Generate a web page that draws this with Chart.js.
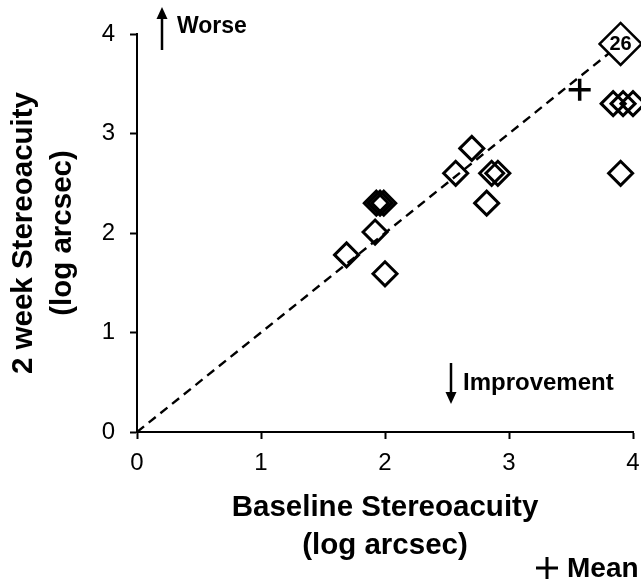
<!DOCTYPE html>
<html>
<head>
<meta charset="utf-8">
<script src="https://cdn.jsdelivr.net/npm/chart.js@4/dist/chart.umd.min.js"></script>
<style>
  body { margin: 0; background: #fff; }
</style>
</head>
<body>
<canvas id="stereoChart" width="641" height="585"></canvas>
<script>
// values (log arcsec)
var baseline = [1.69, 1.92, 1.93, 1.96, 1.99, 2.00, 2.57, 2.70, 2.82, 2.86, 2.91, 3.84, 3.92, 4.00, 3.90];
var twoWeek  = [1.78, 2.01, 2.30, 2.30, 2.30, 1.59, 2.60, 2.85, 2.30, 2.60, 2.60, 3.30, 3.30, 3.30, 2.60];
var overlapPoint = [3.90, 3.90];
var overlapLabel = '26';
var meanPoint = [3.57, 3.44];
var identityLine = [0, 3.90];
var tickValues = [0, 1, 2, 3, 4];

var FONT = "'Liberation Sans', Arial, sans-serif";

function toPoints(xs, ys) {
    return xs.map(function (x, i) { return { x: x, y: ys[i] }; });
}

var annotations = {
    id: 'annotations',
    afterDraw: function (chart) {
        var ctx = chart.ctx;
        var ca = chart.chartArea;
        var xs = chart.scales.x, ys = chart.scales.y;
        ctx.save();
        ctx.fillStyle = '#000';
        ctx.strokeStyle = '#000';

        // count inside the big diamond
        ctx.font = 'bold 20px ' + FONT;
        ctx.textAlign = 'center';
        ctx.textBaseline = 'middle';
        ctx.fillText(overlapLabel, xs.getPixelForValue(overlapPoint[0]), ys.getPixelForValue(overlapPoint[1]) + 1);

        // arrows
        function arrow(x, y1, y2) {
            var dir = y2 < y1 ? -1 : 1;
            ctx.lineWidth = 2.5;
            ctx.beginPath();
            ctx.moveTo(x, y1);
            ctx.lineTo(x, y2 - dir * 8);
            ctx.stroke();
            ctx.beginPath();
            ctx.moveTo(x, y2);
            ctx.lineTo(x - 5.5, y2 - dir * 12);
            ctx.lineTo(x + 5.5, y2 - dir * 12);
            ctx.closePath();
            ctx.fill();
        }
        arrow(ca.left + 25, 50, 7);
        arrow(451, 363, 404);

        ctx.font = 'bold 23px ' + FONT;
        ctx.textAlign = 'left';
        ctx.fillText('Worse', ca.left + 40, 27);
        ctx.font = 'bold 24px ' + FONT;
        ctx.fillText('Improvement', 463, 383);

        // legend for the mean marker
        ctx.lineWidth = 3;
        ctx.beginPath();
        ctx.moveTo(536, 568); ctx.lineTo(558, 568);
        ctx.moveTo(547, 557); ctx.lineTo(547, 579);
        ctx.stroke();
        ctx.font = 'bold 28px ' + FONT;
        ctx.fillText('Mean', 567, 569);
        ctx.restore();
    }
};

var ctx = document.getElementById('stereoChart').getContext('2d');
new Chart(ctx, {
    type: 'scatter',
    data: {
        datasets: [
            {
                type: 'line',
                data: [{ x: identityLine[0], y: identityLine[0] }, { x: identityLine[1], y: identityLine[1] }],
                borderColor: '#000',
                borderWidth: 2.4,
                borderDash: [9, 6],
                pointRadius: 0,
                fill: false,
                order: 4
            },
            {
                label: 'Subjects',
                data: toPoints(baseline, twoWeek),
                pointStyle: 'rectRot',
                pointRadius: 12,
                pointHoverRadius: 12,
                borderWidth: 3,
                borderColor: '#000',
                backgroundColor: 'rgba(0,0,0,0)',
                clip: false,
                order: 3
            },
            {
                label: 'Overlap',
                data: [{ x: overlapPoint[0], y: overlapPoint[1] }],
                pointStyle: 'rectRot',
                pointRadius: 21,
                pointHoverRadius: 21,
                borderWidth: 2.5,
                borderColor: '#000',
                backgroundColor: '#fff',
                clip: false,
                order: 2
            },
            {
                label: 'Mean',
                data: [{ x: meanPoint[0], y: meanPoint[1] }],
                pointStyle: 'cross',
                pointRadius: 11,
                pointHoverRadius: 11,
                borderWidth: 3.5,
                borderColor: '#000',
                clip: false,
                order: 1
            }
        ]
    },
    options: {
        responsive: false,
        animation: false,
        events: [],
        // no extra room for markers that hang over the plot edge
        layout: { autoPadding: false, padding: { top: 34, right: 8, left: 0, bottom: 0 } },
        plugins: { legend: { display: false }, tooltip: { enabled: false } },
        scales: {
            x: {
                type: 'linear',
                min: 0,
                max: 4,
                afterBuildTicks: function (scale) {
                    scale.ticks = tickValues.map(function (v) { return { value: v }; });
                },
                afterFit: function (scale) {
                    scale.height = 153;
                    scale.paddingLeft = 0;
                    scale.paddingRight = 0;
                },
                ticks: { color: '#000', font: { family: FONT, size: 24 }, padding: 10 },
                grid: { drawOnChartArea: false, drawTicks: true, tickLength: 7, tickWidth: 2, color: '#000' },
                border: { color: '#000', width: 2 },
                title: {
                    display: true,
                    text: ['Baseline Stereoacuity', '(log arcsec)'],
                    color: '#000',
                    font: { family: FONT, size: 29.5, weight: 'bold', lineHeight: 1.3 },
                    padding: { top: 0, bottom: 20 }
                }
            },
            y: {
                type: 'linear',
                min: 0,
                max: 4,
                afterBuildTicks: function (scale) {
                    scale.ticks = tickValues.map(function (v) { return { value: v }; });
                },
                afterFit: function (scale) {
                    scale.width = 137;
                    scale.paddingTop = 0;
                    scale.paddingBottom = 0;
                },
                ticks: { color: '#000', font: { family: FONT, size: 24 }, padding: 15 },
                grid: { drawOnChartArea: false, drawTicks: true, tickLength: 7, tickWidth: 2, color: '#000' },
                border: { color: '#000', width: 2 },
                title: {
                    display: true,
                    text: ['2 week Stereoacuity', '(log arcsec)'],
                    color: '#000',
                    font: { family: FONT, size: 29.5, weight: 'bold', lineHeight: 1.3 },
                    padding: { top: 5, bottom: 0 }
                }
            }
        }
    },
    plugins: [annotations]
});
</script>
</body>
</html>
